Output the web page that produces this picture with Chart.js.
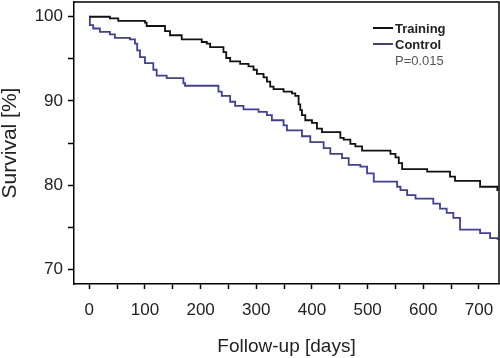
<!DOCTYPE html>
<html>
<head>
<meta charset="utf-8">
<script src="https://cdn.jsdelivr.net/npm/chart.js@4/dist/chart.umd.min.js"></script>
<style>
html,body{margin:0;padding:0;background:#fff;}
#c{display:block;}
</style>
</head>
<body>
<canvas id="c" width="500" height="358"></canvas>
<script>
// Kaplan-Meier step points: day at which survival drops, new survival (%)
const trainingDays = [0,37,52,100,103,136,145,166,202,211,217,241,246,253,271,286,295,301,313,319,325,331,349,364,370,376,379,382,388,400,409,418,451,457,469,478,490,541,550,556,562,607,648,657,702,733];
const trainingSurv = [100,99.8,99.5,99.3,98.9,98.3,97.8,97.3,97.0,96.8,96.4,95.8,95.1,94.7,94.4,94.1,93.7,93.2,92.8,92.3,91.7,91.4,91.1,90.9,90.6,89.6,88.9,88.3,87.7,87.4,86.7,86.3,85.6,85.4,84.9,84.6,84.1,83.7,83.3,82.6,81.9,81.6,81.0,80.5,79.8,79.3];
const controlDays = [0,1,7,19,37,46,73,82,86,91,100,115,121,139,169,172,232,238,253,262,277,304,319,328,349,355,382,397,421,433,454,466,487,499,511,553,559,571,586,618,630,642,654,666,702,720,733];
const controlSurv = [100,99.0,98.6,98.2,97.9,97.5,97.3,96.8,96.0,95.2,94.5,93.7,93.0,92.7,92.1,91.8,91.1,90.6,89.9,89.4,89.0,88.7,88.3,87.7,87.1,86.5,85.8,85.1,84.4,83.7,83.2,82.4,82.2,81.4,80.4,79.8,79.4,78.8,78.4,77.8,77.2,76.7,76.1,74.7,74.3,73.7,73.5];
const xTicks = [0,50,100,150,200,250,300,350,400,450,500,550,600,650,700];
const yTicks = [70,75,80,85,90,95,100];
const seriesNames = ['Training','Control'];
const seriesColors = ['#111111','#3f3f9c'];
const pValueText = 'P=0.015';

const toPts = (xs, ys) => xs.map((x, i) => ({x: x, y: ys[i]}));

const frame = {
  id: 'frame',
  afterDraw(chart) {
    const {ctx, chartArea: a} = chart;
    ctx.save();
    ctx.strokeStyle = '#000';
    ctx.lineWidth = 1.5;
    ctx.beginPath();
    ctx.moveTo(a.left, a.top);
    ctx.lineTo(a.right, a.top);
    ctx.lineTo(a.right, a.bottom);
    ctx.stroke();
    // legend
    const lx = 373, ly = 28, gap = 16;
    ctx.textBaseline = 'middle';
    ctx.textAlign = 'left';
    seriesNames.forEach((n, i) => {
      const y = ly + i * gap;
      ctx.strokeStyle = seriesColors[i];
      ctx.lineWidth = 2;
      ctx.beginPath();
      ctx.moveTo(lx, y);
      ctx.lineTo(lx + 20, y);
      ctx.stroke();
      ctx.fillStyle = '#222';
      ctx.font = 'bold 13px "Liberation Sans", Arial, sans-serif';
      ctx.fillText(n, lx + 22, y + 1);
    });
    ctx.fillStyle = '#555';
    ctx.font = '13px "Liberation Sans", Arial, sans-serif';
    ctx.fillText(pValueText, lx + 22, ly + 2 * gap + 1);
    ctx.restore();
  }
};

new Chart(document.getElementById('c'), {
  type: 'line',
  data: {
    datasets: [
      {label: seriesNames[0], data: toPts(trainingDays, trainingSurv), borderColor: seriesColors[0], borderWidth: 1.8, stepped: 'before', pointRadius: 0, fill: false},
      {label: seriesNames[1], data: toPts(controlDays, controlSurv), borderColor: seriesColors[1], borderWidth: 1.8, stepped: 'before', pointRadius: 0, fill: false}
    ]
  },
  options: {
    responsive: false,
    animation: false,
    devicePixelRatio: 1,
    layout: {padding: {top: 2, right: 1, left: 0, bottom: 0}},
    plugins: {legend: {display: false}, tooltip: {enabled: false}},
    scales: {
      x: {
        type: 'linear',
        min: -27.5,
        max: 736,
        afterBuildTicks: s => { s.ticks = xTicks.map(v => ({value: v})); },
        afterFit: s => { s.height = 74; s.paddingLeft = 0; s.paddingRight = 0; },
        grid: {drawOnChartArea: false, drawTicks: true, tickLength: 5, tickColor: '#000', tickWidth: 1.5},
        border: {display: true, color: '#000', width: 1.5},
        ticks: {
          autoSkip: false, maxRotation: 0, padding: 11, color: '#222',
          font: {family: '"Liberation Sans", Arial, sans-serif', size: 17},
          callback: v => (v % 100 === 0 ? String(v) : '')
        },
        title: {display: true, text: 'Follow-up [days]', color: '#222', padding: {top: 0, bottom: 0},
          font: {family: '"Liberation Sans", Arial, sans-serif', size: 19, lineHeight: 1.2}}
      },
      y: {
        type: 'linear',
        min: 68.25,
        max: 101.75,
        afterBuildTicks: s => { s.ticks = yTicks.map(v => ({value: v})); },
        afterFit: s => { s.width = 74; s.paddingTop = 0; s.paddingBottom = 0; },
        grid: {drawOnChartArea: false, drawTicks: true, tickLength: 6, tickColor: '#000', tickWidth: 1.5},
        border: {display: true, color: '#000', width: 1.5},
        ticks: {
          autoSkip: false, padding: 5, color: '#222',
          font: {family: '"Liberation Sans", Arial, sans-serif', size: 17},
          callback: v => (v % 10 === 0 ? String(v) : '')
        },
        title: {display: true, text: 'Survival [%]', color: '#222', padding: {top: 0, bottom: 0},
          font: {family: '"Liberation Sans", Arial, sans-serif', size: 21, lineHeight: 1}}
      }
    }
  },
  plugins: [frame]
});
</script>
</body>
</html>
